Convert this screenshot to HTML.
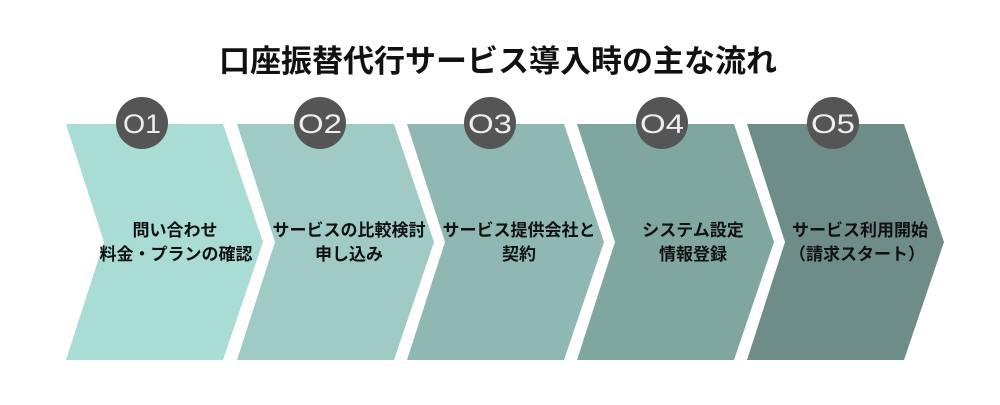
<!DOCTYPE html>
<html><head><meta charset="utf-8"><style>
body{margin:0;width:1000px;height:400px;background:#fff;overflow:hidden;font-family:"Liberation Sans","Noto Sans CJK JP",sans-serif}
</style></head><body>
<svg width="1000" height="400" xmlns="http://www.w3.org/2000/svg" font-family="Liberation Sans, Noto Sans CJK JP, sans-serif">
<text x="498" y="72" text-anchor="middle" font-size="31" font-weight="bold" fill="#111">口座振替代行サービス導入時の主な流れ</text>
<g>
<polygon points="66,124 223,124 263,242 223,360 66,360 104,242" fill="#a9dcd5"/>
<polygon points="237,124 394,124 434,242 394,360 237,360 275,242" fill="#9fcbc4"/>
<polygon points="407,124 564,124 604,242 564,360 407,360 445,242" fill="#8fb8b2"/>
<polygon points="577,124 734,124 774,242 734,360 577,360 615,242" fill="#80a6a0"/>
<polygon points="747,124 904,124 944,242 904,360 747,360 785,242" fill="#6e8c88"/>
</g>
<g fill="#555">
<circle cx="142" cy="123" r="26"/><circle cx="320" cy="123" r="26"/><circle cx="490" cy="123" r="26"/><circle cx="662" cy="123" r="26"/><circle cx="833" cy="123" r="26"/>
</g>
<g fill="#eee" font-size="27" text-anchor="middle">
<text x="142" y="133" textLength="38" lengthAdjust="spacingAndGlyphs">O1</text><text x="320" y="133" textLength="44" lengthAdjust="spacingAndGlyphs">O2</text><text x="490" y="133" textLength="44" lengthAdjust="spacingAndGlyphs">O3</text><text x="662" y="133" textLength="44" lengthAdjust="spacingAndGlyphs">O4</text><text x="833" y="133" textLength="44" lengthAdjust="spacingAndGlyphs">O5</text>
</g>
<g fill="#111" font-size="17" font-weight="bold" text-anchor="middle">
<text x="175" y="236">問い合わせ</text><text x="176" y="260">料金・プランの確認</text>
<text x="349" y="236">サービスの比較検討</text><text x="349" y="260">申し込み</text>
<text x="519" y="236">サービス提供会社と</text><text x="519" y="260">契約</text>
<text x="693" y="236">システム設定</text><text x="693" y="260">情報登録</text>
<text x="860" y="236">サービス利用開始</text><text x="857" y="260">（請求スタート）</text>
</g>
</svg>
</body></html>
